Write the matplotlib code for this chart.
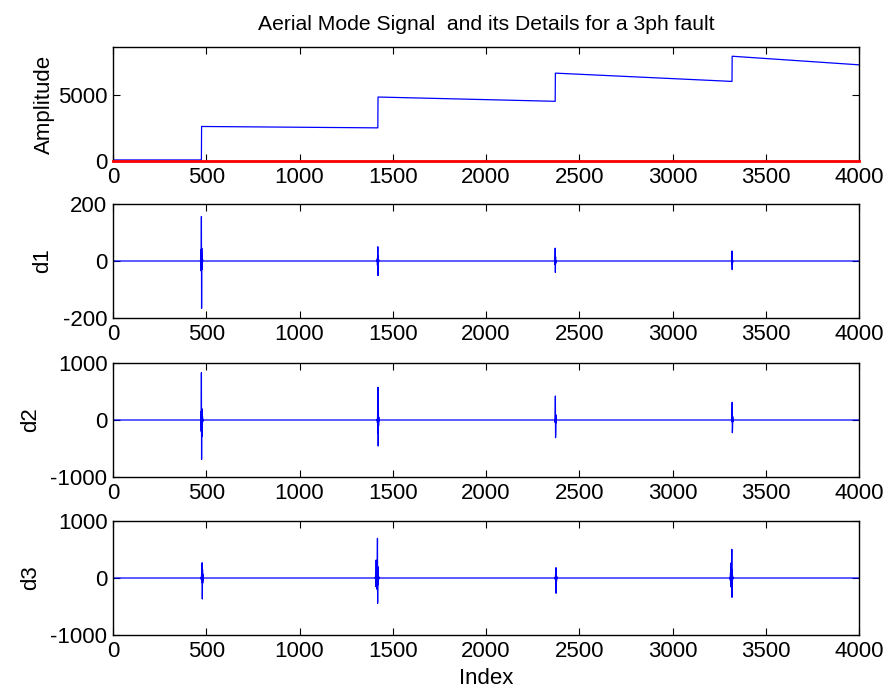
import matplotlib
matplotlib.use('Agg')
import matplotlib.pyplot as plt
import numpy as np

plt.rcParams['font.family'] = ['Liberation Sans', 'DejaVu Sans']
plt.rcParams['font.size'] = 16
plt.rcParams['axes.unicode_minus'] = False

N = 4000

# Aerial mode signal (breakpoints of the staircase) and the red reference trace
sig_x = [0, 474, 475, 1420, 1421, 2371, 2372, 3319, 3320, 3999]
sig_y = [80, 80, 2629, 2523, 4871, 4545, 6690, 6060, 7977, 7323]
ref_x = [0, 3999]
ref_y = [0, 0]

# detail bursts: (start index, sample values); zero elsewhere
d1_bursts = [
    (469, [0, 10, -25, 40, -35, 156, -166, 45, -30, 20, -12, 6, 0]),
    (1416, [0, 8, -15, 25, 50, -51, 18, -10, 5, 0]),
    (2368, [0, 6, -12, 45, -40, 15, -8, 0]),
    (3316, [0, 5, -10, 35, -30, 12, -6, 0]),
]
d2_bursts = [
    (469, [0, 20, -60, 150, -200, 830, -690, 200, -290, 180, -120, 60, -30, 0]),
    (1416, [0, 15, -50, 150, -230, 574, -456, 150, -100, 50, -20, 0]),
    (2368, [0, 10, -40, 120, 421, -310, -200, 90, -50, 20, 0]),
    (3316, [0, 10, -30, 100, 310, -223, -150, 60, -30, 10, 0]),
]
d3_bursts = [
    (472, [0, 15, -30, 60, -80, 120, 268, -368, 150, -90, 70, -40, 30, -15, 0]),
    (1406, [0, 20, -40, 80, -150, 315, -120, 60, -80, 120, -200, 300, 696, -444,
            200, -120, 80, -50, 30, -15, 0]),
    (2370, [0, 15, -30, 60, -100, 181, -268, 120, -60, 30, -15, 0]),
    (3308, [0, 15, -40, 90, -152, 263, -100, 50, -60, 150, 503, -339, 150, -80,
            40, -20, 0]),
]

xticks = [0, 500, 1000, 1500, 2000, 2500, 3000, 3500, 4000]


def build(bursts):
    y = np.zeros(N)
    for start, vals in bursts:
        y[start:start + len(vals)] = vals
    return y


W, H = 888, 692
fig = plt.figure(figsize=(W / 100, H / 100), dpi=100)
fig.patch.set_facecolor('white')

left = 113 / W
width = (859 - 113) / W
ah = 114 / H
bottoms = [161, 318, 477, 635]
axes = [fig.add_axes([left, 1 - b / H, width, ah]) for b in bottoms]

idx = np.arange(N)

ax = axes[0]
ax.plot(sig_x, sig_y, color='#0000ff', lw=0.9)
ax.plot(ref_x, ref_y, color='#ff0000', lw=2.0, clip_on=False, zorder=3)
ax.set_ylim(0, 8680)
ax.set_yticks([0, 5000])
ax.set_ylabel('Amplitude', labelpad=2)
ax.set_title('Aerial Mode Signal  and its Details for a 3ph fault', fontsize=15.2, pad=12)

details = [(d1_bursts, 'd1', (-200, 200), [-200, 0, 200]),
           (d2_bursts, 'd2', (-1000, 1000), [-1000, 0, 1000]),
           (d3_bursts, 'd3', (-1000, 1000), [-1000, 0, 1000])]
for ax, (bursts, name, lim, ticks) in zip(axes[1:], details):
    ax.plot(idx, build(bursts), color='#0000ff', lw=0.9)
    ax.set_ylim(*lim)
    ax.set_yticks(ticks)
    ax.set_ylabel(name, labelpad=7)

for ax in axes:
    ax.set_xlim(0, 4000)
    ax.set_xticks(xticks)
    ax.tick_params(direction='in', top=True, right=True, length=5,
                   width=0.8, labelsize=16, pad=4)
    for s in ax.spines.values():
        s.set_linewidth(1.0)

axes[-1].set_xlabel('Index', labelpad=5)

plt.savefig('out.png', dpi=100, facecolor='white')
